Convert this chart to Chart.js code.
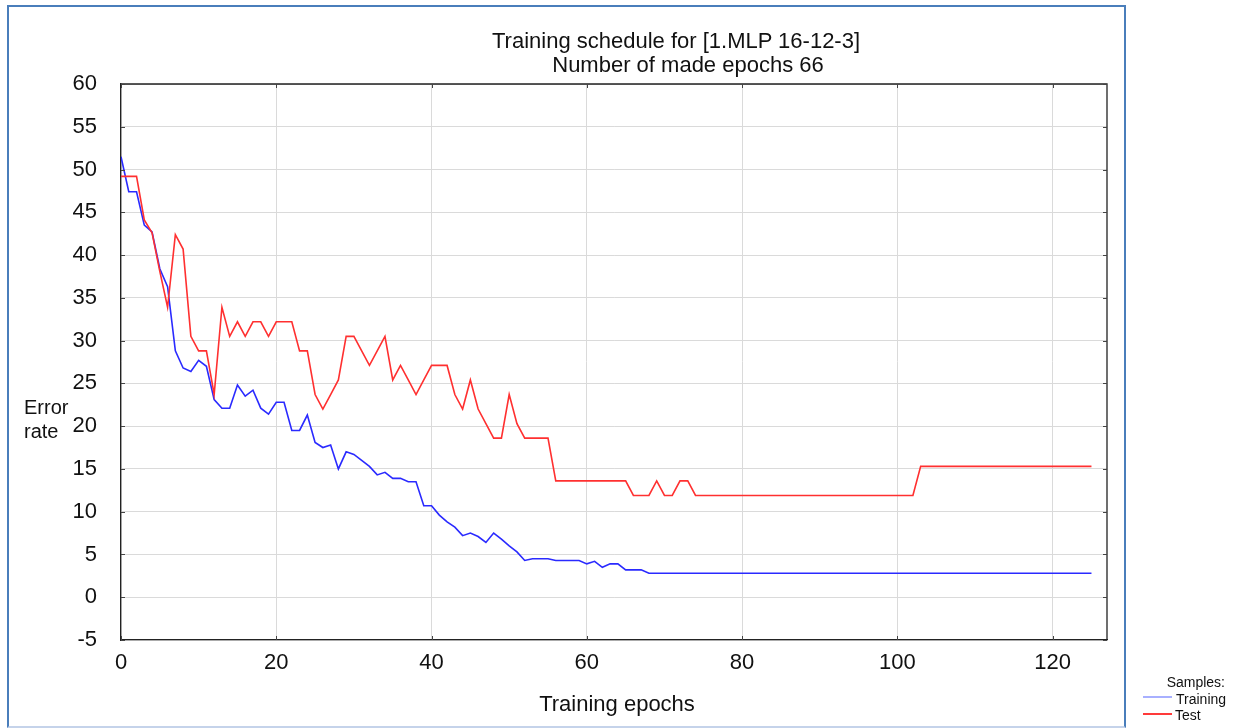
<!DOCTYPE html>
<html>
<head>
<meta charset="utf-8">
<script src="https://cdn.jsdelivr.net/npm/chart.js@4.4.1/dist/chart.umd.min.js"></script>
<style>
  html, body { margin: 0; padding: 0; background: #fff; }
  body { width: 1237px; height: 728px; position: relative; overflow: hidden;
         font-family: "Liberation Sans", Arial, sans-serif; color: #111; }
  #frame { position: absolute; left: 7px; top: 5px; width: 1119px; height: 723px;
           box-sizing: border-box; border: 2px solid #4a7ebb; border-bottom-color: #c5d3ea; }
  #chart { position: absolute; left: 0; top: 0; }
  .txt { position: absolute; white-space: nowrap; }
  .title { font-size: 22px; line-height: 24px; width: 600px; text-align: center; }
  .ytitle { left: 24px; top: 395px; font-size: 20px; line-height: 24px; }
  .xtitle { left: 317px; top: 692px; width: 600px; text-align: center; font-size: 22px; line-height: 24px; }
  .leg { font-size: 14px; line-height: 16px; }
  .legline { position: absolute; left: 1143px; width: 29px; height: 2px; }
</style>
</head>
<body>
<div id="frame"></div>
<canvas id="chart" width="1237" height="728"></canvas>

<div class="txt title" style="left:376px; top:29px;">Training schedule for [1.MLP 16-12-3]</div>
<div class="txt title" style="left:388px; top:53px;">Number of made epochs 66</div>
<div class="txt ytitle">Error<br>rate</div>
<div class="txt xtitle">Training epochs</div>

<div class="txt leg" style="right:12px; top:674px;">Samples:</div>
<div class="legline" style="top:696px; background:#a8b0ff;"></div>
<div class="txt leg" style="left:1176px; top:691px;">Training</div>
<div class="legline" style="top:713px; background:#ff3a3a;"></div>
<div class="txt leg" style="left:1175px; top:707px;">Test</div>

<script>
// error rate per epoch
var training = [
    51.5, 47.4, 47.4, 43.5, 42.7, 38.4, 36.3, 28.8, 26.8, 26.4,
    27.7, 27.0, 23.1, 22.1, 22.1, 24.8, 23.5, 24.2, 22.1, 21.4,
    22.8, 22.8, 19.5, 19.5, 21.3, 18.1, 17.5, 17.8, 15.0, 17.0,
    16.7, 16.0, 15.3, 14.3, 14.6, 13.9, 13.9, 13.5, 13.5, 10.7,
    10.7, 9.6, 8.8, 8.2, 7.2, 7.5, 7.1, 6.4, 7.5, 6.8,
    6.0, 5.3, 4.3, 4.5, 4.5, 4.5, 4.3, 4.3, 4.3, 4.3,
    3.9, 4.2, 3.5, 3.9, 3.9, 3.2, 3.2, 3.2, 2.8, 2.8,
    2.8, 2.8, 2.8, 2.8, 2.8, 2.8, 2.8, 2.8, 2.8, 2.8,
    2.8, 2.8, 2.8, 2.8, 2.8, 2.8, 2.8, 2.8, 2.8, 2.8,
    2.8, 2.8, 2.8, 2.8, 2.8, 2.8, 2.8, 2.8, 2.8, 2.8,
    2.8, 2.8, 2.8, 2.8, 2.8, 2.8, 2.8, 2.8, 2.8, 2.8,
    2.8, 2.8, 2.8, 2.8, 2.8, 2.8, 2.8, 2.8, 2.8, 2.8,
    2.8, 2.8, 2.8, 2.8, 2.8, 2.8
];

var test = [
    49.2, 49.2, 49.2, 44.1, 42.6, 38.1, 33.9, 42.4, 40.7, 30.5,
    28.8, 28.8, 23.7, 33.9, 30.5, 32.2, 30.5, 32.2, 32.2, 30.5,
    32.2, 32.2, 32.2, 28.8, 28.8, 23.7, 22.0, 23.7, 25.4, 30.5,
    30.5, 28.8, 27.1, 28.8, 30.5, 25.4, 27.1, 25.4, 23.7, 25.4,
    27.1, 27.1, 27.1, 23.7, 22.0, 25.4, 22.0, 20.3, 18.6, 18.6,
    23.7, 20.3, 18.6, 18.6, 18.6, 18.6, 13.6, 13.6, 13.6, 13.6,
    13.6, 13.6, 13.6, 13.6, 13.6, 13.6, 11.9, 11.9, 11.9, 13.6,
    11.9, 11.9, 13.6, 13.6, 11.9, 11.9, 11.9, 11.9, 11.9, 11.9,
    11.9, 11.9, 11.9, 11.9, 11.9, 11.9, 11.9, 11.9, 11.9, 11.9,
    11.9, 11.9, 11.9, 11.9, 11.9, 11.9, 11.9, 11.9, 11.9, 11.9,
    11.9, 11.9, 11.9, 15.3, 15.3, 15.3, 15.3, 15.3, 15.3, 15.3,
    15.3, 15.3, 15.3, 15.3, 15.3, 15.3, 15.3, 15.3, 15.3, 15.3,
    15.3, 15.3, 15.3, 15.3, 15.3, 15.3
];

// epoch number of each value
var epochs = training.map((v, i) => i);

var xTicks = { min: 0, max: 127, step: 20 };
var yTicks = { min: -5, max: 60, step: 5 };

function toPoints(values) {
    return values.map((v, i) => ({ x: epochs[i], y: v }));
}

// closes the plot box and puts the small inward tick marks on all four sides
var boxPlugin = {
    id: 'box',
    afterDraw: (chart) => {
        var ctx = chart.ctx;
        var a = chart.chartArea;
        var xs = chart.scales.x, ys = chart.scales.y;
        ctx.save();
        ctx.strokeStyle = '#222';
        ctx.lineWidth = 1.3;
        ctx.beginPath();
        ctx.moveTo(a.left, a.top);
        ctx.lineTo(a.right, a.top);
        ctx.lineTo(a.right, a.bottom);
        ctx.stroke();

        ctx.strokeStyle = '#444';
        ctx.lineWidth = 1;
        ctx.beginPath();
        ys.ticks.forEach((t) => {
            var py = Math.round(ys.getPixelForValue(t.value)) + 0.5;
            ctx.moveTo(a.left, py); ctx.lineTo(a.left + 4, py);
            ctx.moveTo(a.right, py); ctx.lineTo(a.right - 4, py);
        });
        xs.ticks.forEach((t) => {
            var px = Math.round(xs.getPixelForValue(t.value)) + 0.5;
            ctx.moveTo(px, a.bottom); ctx.lineTo(px, a.bottom - 4);
            ctx.moveTo(px, a.top); ctx.lineTo(px, a.top + 4);
        });
        ctx.stroke();
        ctx.restore();
    }
};

Chart.defaults.font.family = '"Liberation Sans", Arial, sans-serif';
Chart.defaults.color = '#111';

var ctx = document.getElementById('chart').getContext('2d');
var chart = new Chart(ctx, {
    type: 'line',
    data: {
        datasets: [
            {
                label: 'Test',
                data: toPoints(test),
                borderColor: '#ff3030',
                borderWidth: 1.6,
                pointRadius: 0,
                tension: 0,
                order: 0,
            },
            {
                label: 'Training',
                data: toPoints(training),
                borderColor: '#2a2aff',
                borderWidth: 1.6,
                pointRadius: 0,
                tension: 0,
                order: 1,
            }
        ]
    },
    options: {
        responsive: false,
        animation: false,
        layout: { padding: { left: 0, top: 84, right: 130, bottom: 48 } },
        plugins: {
            legend: { display: false },
            title: { display: false },
            tooltip: { enabled: false }
        },
        scales: {
            x: {
                type: 'linear',
                min: xTicks.min,
                max: xTicks.max,
                ticks: { stepSize: xTicks.step, includeBounds: false, padding: 10,
                         font: { size: 22 }, color: '#111' },
                grid: { color: '#dadada', drawTicks: false },
                border: { color: '#222', width: 1.3 },
                afterFit: (s) => { s.height = 40; }
            },
            y: {
                min: yTicks.min,
                max: yTicks.max,
                ticks: { stepSize: yTicks.step, padding: 24,
                         font: { size: 22 }, color: '#111' },
                grid: { color: '#dadada', drawTicks: false },
                border: { color: '#222', width: 1.3 },
                afterFit: (s) => { s.width = 121; }
            }
        }
    },
    plugins: [boxPlugin]
});
</script>
</body>
</html>
